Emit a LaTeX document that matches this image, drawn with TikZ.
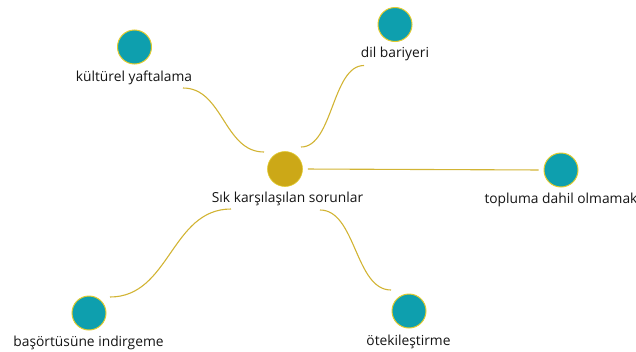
\documentclass[tikz,border=0pt]{standalone}
\usepackage{fontspec}
\setmainfont{Open Sans}
\usetikzlibrary{calc}

\definecolor{dotteal}{HTML}{0E9FAE}
\definecolor{dotgold}{HTML}{CCA817}
\definecolor{rimgold}{HTML}{E2CB2E}
\definecolor{linkgold}{HTML}{D2B434}
\definecolor{lbltext}{HTML}{141414}

\begin{document}
\begin{tikzpicture}[x=1pt,y=-1pt,
    leaf/.style={circle,fill=dotteal,draw=rimgold,line width=1pt,minimum size=34pt,inner sep=0pt},
    hub/.style={circle,fill=dotgold,draw=rimgold,line width=0.6pt,minimum size=35pt,inner sep=0pt},
    lbl/.style={anchor=base,inner sep=0pt,text=lbltext,font=\fontsize{13.8}{16}\selectfont},
    link/.style={draw=linkgold,line width=1.1pt}]
      \path[use as bounding box] (0,0) rectangle (636,351);
      % centre
      \node[hub] (hub) at (285,169) {};
      \node[lbl] (hubtext) at (287.5,202) {Sık karşılaşılan sorunlar};
      % leaves
      \node[leaf] (kul) at (134.5,47) {};
      \node[lbl] (kultext) at (134,81) {kültürel yaftalama};
      \node[leaf] (dil) at (395,24.5) {};
      \node[lbl] (diltext) at (395,57) {dil bariyeri};
      \node[leaf] (top) at (561,170) {};
      \node[lbl] (toptext) at (561,203) {topluma dahil olmamak};
      \node[leaf] (bas) at (89,313) {};
      \node[lbl] (bastext) at (88.5,346) {başörtüsüne indirgeme};
      \node[leaf] (ote) at (409,311) {};
      \node[lbl] (otetext) at (408.5,345) {ötekileştirme};
      % connector ends
      \coordinate (kulend) at (183,88);
      \coordinate (hubnw) at (264,152);
      \coordinate (dilend) at (364,65.5);
      \coordinate (hubne) at (301,147);
      \coordinate (basend) at (110,297);
      \coordinate (hubsw) at (231,209);
      \coordinate (hubse) at (320,210);
      \coordinate (oteend) at (391,290);
      % connectors
      \path[link] (kulend) .. controls +(40,0) and +(-40,0) .. (hubnw);
      \path[link] (hubne) .. controls +(32,0) and +(-32,0) .. (dilend);
      \path[link,shorten <=5pt,shorten >=5pt] (hub.east) -- (top.west);
      \path[link] (basend) .. controls +(60,0) and +(-60,0) .. (hubsw);
      \path[link] (hubse) .. controls +(36,0) and +(-36,0) .. (oteend);
\end{tikzpicture}
\end{document}
